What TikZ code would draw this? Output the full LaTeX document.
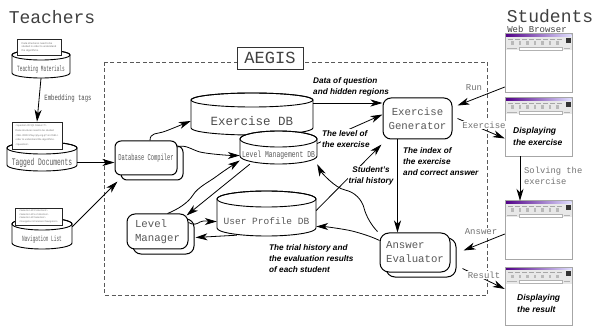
\documentclass[tikz,border=0pt]{standalone}
\usepackage{fontspec}
\setmainfont{Liberation Sans}
\setsansfont{Liberation Sans}
\setmonofont{Liberation Mono}
\usepackage{graphicx}
\usetikzlibrary{arrows.meta,shadows,calc}

\newcommand{\cond}[3]{\scalebox{#1}[1]{\fontsize{#2}{#2}\selectfont\ttfamily #3}}
% name, cx, rx, ytop, ybot, ry, text
\newcommand{\dbcyl}[7]{%
  \path[cyl] ({#2-#3},#4) -- ({#2-#3},#5) arc[start angle=180,end angle=360,x radius=#3pt,y radius=#6pt]
     -- ({#2+#3},#4) arc[start angle=0,end angle=180,x radius=#3pt,y radius=#6pt] -- cycle;
  \draw[cylline] (#2,#4) ellipse[x radius=#3pt,y radius=#6pt];
  \node[inner sep=0pt,minimum width={2*#3pt},minimum height={(#5-#4)*1pt}] (#1) at (#2,{(#4+#5)/2+#6}) {#7};
}
% name, ytop
\newcommand{\browserwin}[2]{%
  \node[win] (#1) at (538.5,{#2+29}) {};
  \shade[left color=violet!75!blue!85!black, right color=blue!12] (505.5,{#2+0.5}) rectangle (571.5,{#2+3});
  \fill[gray!18] (505.5,{#2+3}) rectangle (571.5,{#2+16.5});
  \fill[black!80] (566,{#2+4}) rectangle (571,{#2+9});
  \foreach \i in {0,...,7} \draw[gray!70,line width=0.4pt] ({508+\i*7},{#2+5}) -- ({512.5+\i*7},{#2+5});
  \foreach \i in {0,...,6} \fill[gray!55] ({511+\i*7.5},{#2+7.5}) rectangle ({513.5+\i*7.5},{#2+11});
  \draw[gray!60,line width=0.3pt] (507,{#2+14.5}) -- (517,{#2+14.5});
  \draw[gray!60,fill=white,line width=0.3pt] (519,{#2+13}) rectangle (562,{#2+16});
  \draw[gray!60,line width=0.3pt] (564,{#2+14.5}) -- (570,{#2+14.5});
  \draw[gray!70,line width=0.6pt] (#1.north west) rectangle (#1.south east);
}

\begin{document}
\begin{tikzpicture}[x=1pt,y=-1pt,
  cyl/.style={fill=white,draw=black,line width=0.9pt},
  cylline/.style={draw=black,line width=0.9pt},
  box/.style={draw=black,line width=1pt,fill=white,inner sep=1pt},
  shbox/.style={box,copy shadow={draw=black,fill=white,line width=1pt,shadow xshift=6pt,shadow yshift=-5pt}},
  paper/.style={draw=black!85,fill=white,line width=0.6pt,inner sep=1pt,align=left,
     text=black!55,font=\fontsize{2.6}{3.6}\selectfont},
  conn/.style={line width=0.8pt,-{Stealth[length=12pt,width=7pt,inset=3.5pt]}},
  lbl/.style={font=\sffamily\bfseries\itshape\fontsize{8.2}{11}\selectfont,align=left,inner sep=1pt},
  nodett/.style={font=\ttfamily\fontsize{10.7}{14}\selectfont,text=black!65},
  sidett/.style={font=\ttfamily\fontsize{9}{11}\selectfont,text=black!55,inner sep=1pt},
  win/.style={draw=gray!70,fill=white,minimum width=67pt,minimum height=58pt,inner sep=0pt},
  aegisline/.style={draw=black!65,line width=0.8pt,dash pattern=on 4pt off 2.5pt},
  title/.style={font=\ttfamily\fontsize{18}{18}\selectfont,text=black!75}
]
\useasboundingbox (0,0) rectangle (595,326);

% ---------- titles ----------
\node[title] (teachers) at (52,17) {Teachers};
\node[title] (students) at (550,16) {Students};
\node[font=\ttfamily\fontsize{9}{9}\selectfont,text=black!75] (webbrowser) at (537,29) {Web Browser};

% ---------- AEGIS frame ----------
\draw[aegisline] (104,62) rectangle (487,295);
\node[draw=black!80,fill=white,line width=0.8pt,minimum width=66pt,minimum height=22pt,inner sep=0pt,
      font=\ttfamily\fontsize{17}{17}\selectfont,text=black!75] (aegis) at (270,58) {AEGIS};

% ---------- teacher side ----------
\dbcyl{tm}{41}{29}{55}{73}{5}{\textcolor{black!65}{\cond{0.55}{8}{Teaching Materials}}}
\node[paper,minimum width=44pt,minimum height=16pt] (tmp) at (39,47)
  {Data structures need to be\\studied in order to understand\\the algorithms.};

\dbcyl{td}{42}{35}{148}{165}{6}{\textcolor{black!65}{\cond{0.63}{10}{Tagged Documents}}}
\node[paper,minimum width=50pt,minimum height=27pt,font=\fontsize{2.5}{4.6}\selectfont] (tdp) at (37,135.5)
  {<question ID=Q1 Status=?>\\Data structures need to be studied\\<SEL ORD>Play<ply.org.q?>in</SEL>\\order to understand the algorithms.\\</question>};

\dbcyl{nl}{42}{30}{224}{243}{6}{\textcolor{black!65}{\cond{0.55}{8}{Navigation List}}}
\node[paper,minimum width=47pt,minimum height=17pt,font=\fontsize{2.4}{3.6}\selectfont] (nlp) at (38.5,216.5)
  {<Selection Id=Collection1>\\<Selection Id=e-Collection>\\<Selection Id=Selection>\\<Navigation Id=element Navigation>};

\draw[conn] (tm.south) -- (tdp.north);
\node[text=black!70] (embed) at (68,98) {\cond{0.7}{8}{Embedding tags}};

% ---------- AEGIS components ----------
\node[shbox,rounded corners=6pt,minimum width=62pt,minimum height=34pt] (dc) at (146,158)
  {\textcolor{black!65}{\cond{0.6}{9}{Database Compiler}}};

\dbcyl{exdb}{252}{61}{100}{128}{7}{\textcolor{black!70}{\fontsize{12.5}{12.5}\selectfont\ttfamily Exercise DB}}
\dbcyl{lmdb}{278.5}{38.5}{139}{156}{8}{\textcolor{black!65}{\cond{0.71}{9}{Level Management DB}}}
\dbcyl{updb}{266.5}{49.5}{199}{228}{8}{\textcolor{black!65}{\fontsize{9.5}{9.5}\selectfont\ttfamily User Profile DB}}

\node[shbox,nodett,rounded corners=8pt,minimum width=61pt,minimum height=35pt,align=left] (lm) at (157.5,231.5) {Level\\Manager};
\node[box,nodett,rounded corners=8pt,minimum width=69pt,minimum height=41pt,align=center] (eg) at (417.5,118.5) {Exercise\\Generator};
\node[shbox,nodett,rounded corners=9pt,minimum width=70pt,minimum height=39pt,align=left] (ae) at (415,252.5) {Answer\\Evaluator};

% ---------- browser windows ----------
\browserwin{wa}{34}
\browserwin{wb}{98}
\browserwin{wc}{201}
\browserwin{wd}{267}
\node[lbl,font=\sffamily\bfseries\itshape\fontsize{8.5}{12}\selectfont,anchor=west] (dispex) at (512,136) {Displaying\\the exercise};
\node[lbl,font=\sffamily\bfseries\itshape\fontsize{8.5}{12}\selectfont,anchor=west] (dispres) at (516,303) {Displaying\\the result};

% ---------- connectors ----------
\draw[conn] (td.east) -- (td.east -| dc.west);
\draw[conn] ([yshift=3pt]nl.north east) -- ([xshift=3pt,yshift=-6pt]dc.south west);

\draw[conn] ([xshift=4pt]dc.north) .. controls +(0,-8) and +(-6,2) .. (163,132)
   .. controls +(6,-2) and +(-10,4) .. (exdb.west);
\draw[conn] ([yshift=11pt]dc.east) .. controls +(8,-3) and +(-8,-2) .. (200,152)
   .. controls +(8,2) and +(-10,0) .. (lmdb.west);
\draw[conn] ([xshift=10pt]lm.north) .. controls +(10,-4) and +(-5,8) .. (193,195)
   .. controls +(5,-8) and +(-8,6) .. (217,176)
   .. controls +(8,-6) and +(-6,4) .. ([yshift=-5pt]lmdb.west);
\draw[conn] ([xshift=10pt]lmdb.south west) -- ([xshift=-2pt,yshift=-2pt]lm.north east);
\draw[conn] ([yshift=9pt]lm.east) .. controls +(5,3) and +(-3,2) .. (200,222)
   .. controls +(3,-2) and +(-5,0) .. (updb.west);
\draw[conn] ([xshift=20pt,yshift=1pt]updb.south west) -- ([xshift=7pt,yshift=-6pt]lm.east);

\draw[conn] ([yshift=18pt]exdb.east) -- ([yshift=18pt]exdb.east -| eg.west);
\draw[conn] ([yshift=12pt]lmdb.east) -- ([yshift=4pt]eg.west);
\draw[conn] ([yshift=11pt]updb.east) -- ([xshift=-1pt,yshift=-5pt]eg.south west);
\draw[conn] ([xshift=-20pt]eg.south) -- ([xshift=-20pt]eg.south |- ae.north);

\draw[conn] ([xshift=-2pt,yshift=1pt]ae.north west) .. controls +(-6,-6) and +(2,8) .. (364,208)
   .. controls +(-2,-8) and +(10,2) .. (345,190)
   .. controls +(-10,-2) and +(4,8) .. (lmdb.south east);
\draw[conn] ([yshift=12pt]ae.west) .. controls +(-8,-4) and +(8,2) .. (352,231)
   .. controls +(-8,-2) and +(8,0) .. ([yshift=-5pt]updb.east);

% browser connections
\draw[conn] ([yshift=-24pt]wa.west) -- ([xshift=5pt,yshift=13pt]eg.east);
\draw[conn] ([xshift=5pt]eg.east) -- ([yshift=-11.5pt]wb.west);
\draw[conn] ([xshift=-18.5pt]wb.south) -- ([xshift=-18.5pt]wc.north);
\draw[conn] ([yshift=-4pt]wc.west) -- ([xshift=13pt,yshift=2pt]ae.east);
\draw[conn] ([xshift=12pt,yshift=-16pt]ae.east) -- ([yshift=7pt]wd.west);

% ---------- labels ----------
\node[lbl,anchor=west] (ldata) at (312,87) {Data of question\\and hidden regions};
\node[lbl,anchor=west,fill=white] (llevel) at (321,139) {The level of\\the exercise};
\node[lbl,align=center,fill=white] (lstud) at (371,176) {Student's\\trial history};
\node[lbl,anchor=west] (lindex) at (402,162) {The index of\\the exercise\\and correct answer};
\node[lbl,anchor=west] (ltrial) at (268,259) {The trial history and\\the evaluation results\\of each student};

\node[sidett,fill=white] (lrun) at (474,88) {Run};
\node[sidett,fill=white] (lex) at (484,125) {Exercise};
\node[sidett,anchor=west,align=left,font=\ttfamily\fontsize{8.8}{11}\selectfont] (lsolve) at (523,176) {Solving the\\exercise};
\node[sidett,fill=white] (lans) at (481,232) {Answer};
\node[sidett,fill=white] (lres) at (484,275) {Result};
\end{tikzpicture}
\end{document}
